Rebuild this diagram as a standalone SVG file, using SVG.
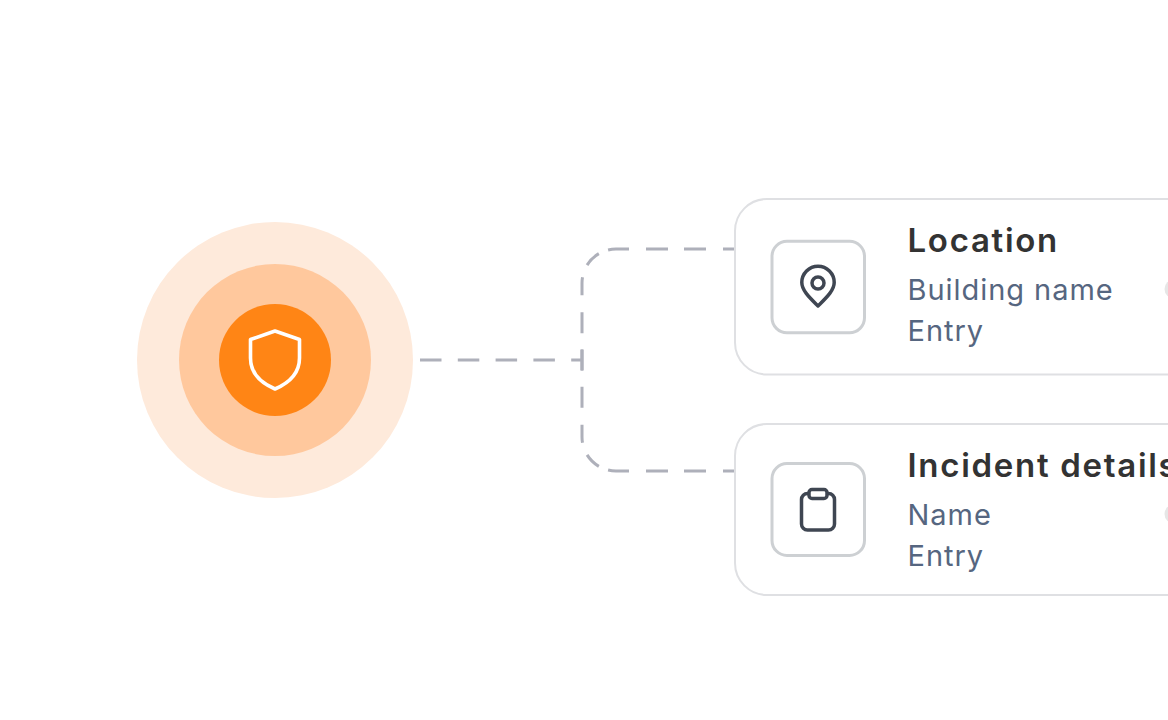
<svg xmlns="http://www.w3.org/2000/svg" width="1168" height="720" viewBox="0 0 1168 720">
<style>
.card{fill:#fff;stroke:#dfe0e3;stroke-width:2}
.tile{fill:#fff;stroke:#cdd0d3;stroke-width:3}
.glyph{fill:none;stroke:#3f4652;stroke-width:3.500;stroke-linejoin:round;stroke-linecap:round}
.dot{fill:#e6e6e6}
.title{font-family:"Inter","Liberation Sans",sans-serif;font-weight:600;font-size:33px;letter-spacing:1.700px;fill:#333333}
.sub{font-family:"Inter","Liberation Sans",sans-serif;font-weight:400;font-size:29px;letter-spacing:0.950px;fill:#566680}
.dash{fill:none;stroke:#aeb0ba;stroke-width:3}
</style>
<rect width="1168" height="720" fill="#ffffff"/>
<g id="connectors">
<path class="dash" stroke-dasharray="21.500 16.300" d="M420 360H582"/>
<path class="dash" stroke-dasharray="12 17 22 16 22 17 21 10 16.500 13 18 17 21 16 21" d="M735 249H616A34 34 0 0 0 582 283V370"/>
<path class="dash" stroke-dasharray="12 17 22 16 22 17 21 10 16.500 13 18 17 21 16 21" d="M735 471H616A34 34 0 0 1 582 437V350"/>
</g>
<g id="hub">
<circle cx="275" cy="360" r="138" fill="#feeadb"/>
<circle cx="275" cy="360" r="96" fill="#ffc89d"/>
<circle cx="275" cy="360" r="56" fill="#ff8515"/>
<path d="M275 331L299.500 339.500V358C299.500 373 289 383 275 389C261 383 250.500 373 250.500 358V339.500Z" fill="none" stroke="#ffffff" stroke-width="3.600" stroke-linejoin="round"/>
</g>
<g id="location">
<rect class="card" x="735" y="199" width="520" height="175.500" rx="32"/>
<rect class="tile" x="772" y="241.300" width="92.500" height="91.500" rx="15"/>
<path class="glyph" d="M818 306C810 298 801.800 290.500 801.800 282.500A16.200 16.200 0 0 1 834.200 282.500C834.200 290.500 826 298 818 306Z"/>
<circle class="glyph" cx="818" cy="283" r="6"/>
<text class="title" x="907.500" y="251.500">Location</text>
<text class="sub" x="907.500" y="300">Building name</text>
<text class="sub" x="907.500" y="341">Entry</text>
<circle class="dot" cx="1174" cy="289" r="9.500"/>
</g>
<g id="incident-details">
<rect class="card" x="735" y="424" width="520" height="171" rx="32"/>
<rect class="tile" x="772" y="463.600" width="92.500" height="91.800" rx="15"/>
<rect class="glyph" x="801.500" y="493.500" width="33" height="36.500" rx="6"/>
<rect class="glyph" x="809" y="489.500" width="18" height="9" rx="3" style="fill:#ffffff"/>
<text class="title" x="907.500" y="476.500">Incident details</text>
<text class="sub" x="907.500" y="525">Name</text>
<text class="sub" x="907.500" y="566">Entry</text>
<circle class="dot" cx="1174" cy="514" r="9.500"/>
</g>
</svg>
